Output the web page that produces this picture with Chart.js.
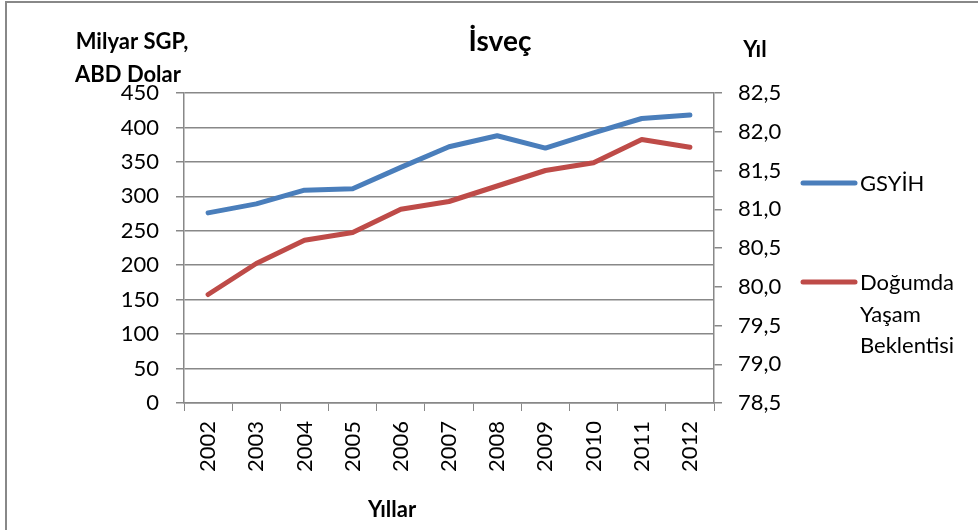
<!DOCTYPE html>
<html>
<head>
<meta charset="utf-8">
<script src="https://cdn.jsdelivr.net/npm/chart.js@4"></script>
<style>
  html, body { margin: 0; padding: 0; background: #fff; }
  #wrap { width: 978px; height: 530px; }
</style>
</head>
<body>
<div id="wrap"><canvas id="chart" width="978" height="530"></canvas></div>
<script>
'use strict';

/* Data */
const years = ['2002', '2003', '2004', '2005', '2006', '2007', '2008', '2009', '2010', '2011', '2012'];
const gdpValues = [276, 289, 309, 311, 342, 372, 388, 370, 392, 413, 418];
const lifeExpValues = [79.9, 80.3, 80.6, 80.7, 81.0, 81.1, 81.3, 81.5, 81.6, 81.9, 81.8];
const seriesNames = ['GSYİH', ['Doğumda', 'Yaşam', 'Beklentisi']];

const FONT = 'Lato, "Open Sans", sans-serif';
const GRID = '#888888';
const BLUE = '#4A7EBB';
const RED = '#BE4B48';

/* Frame, titles and legend drawn on the canvas */
const decorations = {
  id: 'decorations',
  beforeDraw(chart) {
    const ctx = chart.ctx;
    ctx.save();
    ctx.fillStyle = '#fff';
    ctx.fillRect(0, 0, chart.width, chart.height);
    ctx.strokeStyle = '#888';
    ctx.lineWidth = 2;
    ctx.beginPath();
    ctx.moveTo(6, 530);
    ctx.lineTo(6, 2);
    ctx.lineTo(978, 2);
    ctx.stroke();
    ctx.restore();
  },
  afterDraw(chart) {
    const ctx = chart.ctx;
    ctx.save();
    ctx.fillStyle = '#000';
    ctx.textAlign = 'center';
    ctx.textBaseline = 'middle';

    ctx.font = 'bold 28px ' + FONT;
    ctx.fillText('İsveç', 500, 42);

    ctx.font = 'bold 22px ' + FONT;
    ctx.fillText('Milyar SGP,', 132, 42);
    ctx.fillText('ABD Dolar', 128, 75);
    ctx.fillText('Yıl', 755, 50);
    ctx.fillText('Yıllar', 392, 510);

    // legend
    const colors = [BLUE, RED];
    const ys = [183, 282];
    ctx.lineWidth = 5;
    ctx.lineCap = 'round';
    ctx.textAlign = 'left';
    ctx.font = '22px ' + FONT;
    seriesNames.forEach((name, i) => {
      ctx.strokeStyle = colors[i];
      ctx.beginPath();
      ctx.moveTo(803, ys[i]);
      ctx.lineTo(855, ys[i]);
      ctx.stroke();
      const lines = Array.isArray(name) ? name : [name];
      lines.forEach((t, j) => ctx.fillText(t, 860, ys[i] + 1 + j * 31.5));
    });
    ctx.restore();
  }
};

const fmtComma = v => Number(v).toFixed(1).replace('.', ',');

function initChart() {
  const ctx = document.getElementById('chart').getContext('2d');
  new Chart(ctx, {
    type: 'line',
    data: {
      labels: years,
      datasets: [
        {
          label: 'GSYİH',
          data: gdpValues,
          yAxisID: 'y',
          borderColor: BLUE,
          borderWidth: 5,
          borderCapStyle: 'round',
          borderJoinStyle: 'round',
          pointRadius: 0,
          tension: 0,
          fill: false
        },
        {
          label: 'Doğumda Yaşam Beklentisi',
          data: lifeExpValues,
          yAxisID: 'y1',
          borderColor: RED,
          borderWidth: 5,
          borderCapStyle: 'round',
          borderJoinStyle: 'round',
          pointRadius: 0,
          tension: 0,
          fill: false
        }
      ]
    },
    options: {
      responsive: false,
      animation: false,
      layout: { padding: { top: 93, right: 184, bottom: 47, left: 0 } },
      plugins: {
        legend: { display: false },
        title: { display: false },
        tooltip: { enabled: false }
      },
      scales: {
        x: {
          offset: true,
          afterFit: s => { s.height = 80; },
          grid: { drawOnChartArea: false, drawTicks: true, tickLength: 8, color: GRID, offset: true },
          border: { color: GRID, width: 1.5 },
          ticks: {
            autoSkip: false,
            minRotation: 90,
            maxRotation: 90,
            padding: 10,
            color: '#000',
            font: { family: FONT, size: 22 }
          }
        },
        y: {
          position: 'left',
          min: 0,
          max: 450,
          afterFit: s => { s.width = 184; },
          grid: { color: GRID, lineWidth: 1.5, tickLength: 8 },
          border: { color: GRID, width: 1.5 },
          ticks: {
            stepSize: 50,
            padding: 17,
            color: '#000',
            font: { family: FONT, size: 22 }
          }
        },
        y1: {
          position: 'right',
          min: 78.5,
          max: 82.5,
          afterFit: s => { s.width = 80; },
          grid: { drawOnChartArea: false, color: GRID, lineWidth: 1.5, tickLength: 8 },
          border: { color: GRID, width: 1.5 },
          ticks: {
            stepSize: 0.5,
            padding: 16,
            color: '#000',
            font: { family: FONT, size: 22 },
            callback: fmtComma
          }
        }
      }
    },
    plugins: [decorations]
  });
}

document.addEventListener('DOMContentLoaded', initChart);
</script>
</body>
</html>
